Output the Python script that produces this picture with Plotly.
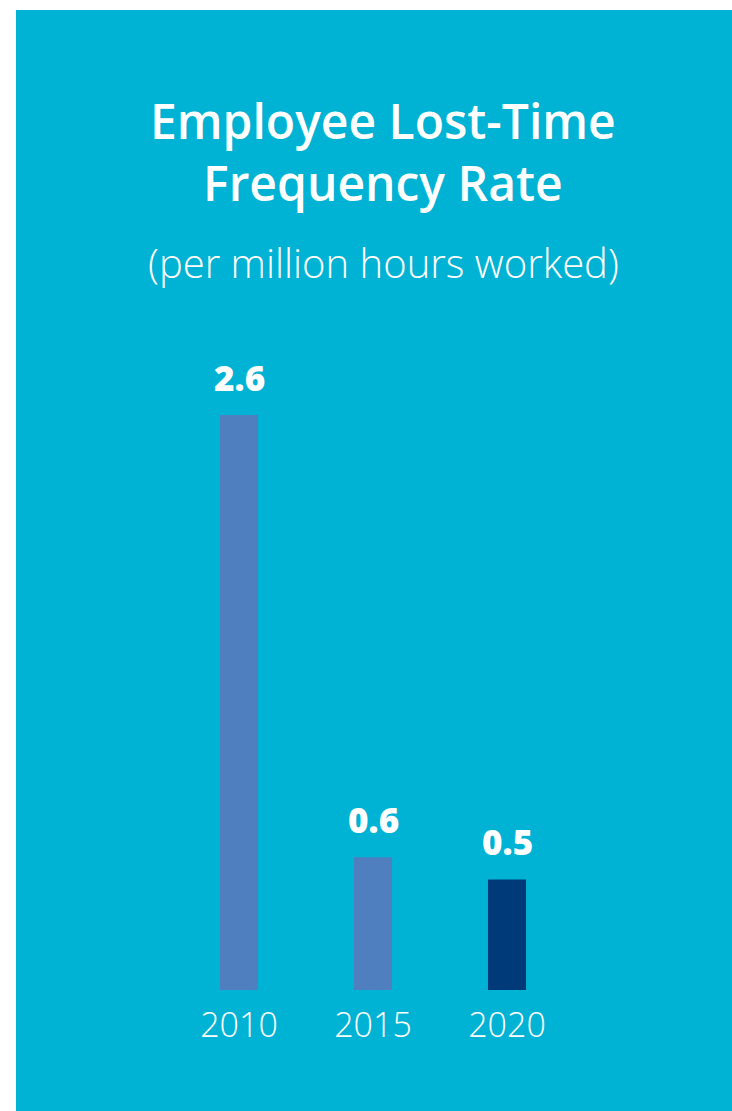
import plotly.graph_objects as go

# Lost-time frequency rate, per million hours worked
years = ["2010", "2015", "2020"]
rates = [2.6, 0.6, 0.5]
bar_colors = ["#4F7FBF", "#4F7FBF", "#003A78"]
value_labels = ["2.6", "0.6", "0.5"]

title_lines = ["Employee Lost-Time", "Frequency Rate"]
subtitle = "(per million hours worked)"

W, H = 732, 1111
TEAL = "#00B3D4"
FONT = "Open Sans"

# vertical scale: zero line at 990px, 2.6 at 415px
Y0_PX, YTOP_PX, YMAX = 990, 415, 3.2
px_per_unit = (Y0_PX - YTOP_PX) / 2.6
top_px = Y0_PX - YMAX * px_per_unit

fig = go.Figure(
    go.Bar(
        x=years,
        y=rates,
        marker=dict(color=bar_colors, line=dict(width=0)),
        hoverinfo="skip",
    )
)

# data labels above each bar
for i, (v, lab) in enumerate(zip(rates, value_labels)):
    fig.add_annotation(
        x=i, y=v, xref="x", yref="y",
        text=lab, showarrow=False,
        yanchor="bottom", yshift=12,
        font=dict(family=FONT, size=35, color="white", weight=800),
    )

# heading block
fig.add_annotation(
    x=383 / W, y=1 - 151 / H, xref="paper", yref="paper",
    text="<br>".join(title_lines), showarrow=False,
    xanchor="center", yanchor="middle", align="center",
    font=dict(family=FONT, size=48, color="white", weight=600),
)
fig.add_annotation(
    x=383 / W, y=1 - 262 / H, xref="paper", yref="paper",
    text=subtitle, showarrow=False, xanchor="center", yanchor="middle",
    font=dict(family=FONT, size=40, color="white", weight=300),
)

# teal panel behind the chart
fig.add_shape(
    type="rect", xref="paper", yref="paper",
    x0=16 / W, x1=1.0, y0=0.0, y1=1 - 10 / H,
    fillcolor=TEAL, line=dict(width=0), layer="below",
)

fig.update_layout(
    width=W, height=H,
    margin=dict(l=0, r=0, t=0, b=0),
    paper_bgcolor="white",
    plot_bgcolor="rgba(0,0,0,0)",
    bargap=0.716,
    showlegend=False,
    xaxis=dict(
        type="category",
        domain=[172 / W, 574 / W],
        range=[-0.5, 2.5],
        showgrid=False, zeroline=False, showline=False, ticks="",
        tickfont=dict(family=FONT, size=34, color="white", weight=300),
        ticklabelstandoff=12,
        fixedrange=True,
    ),
    yaxis=dict(
        domain=[1 - Y0_PX / H, 1 - top_px / H],
        range=[0, YMAX],
        visible=False,
        fixedrange=True,
    ),
)

fig.write_html("out.html")
